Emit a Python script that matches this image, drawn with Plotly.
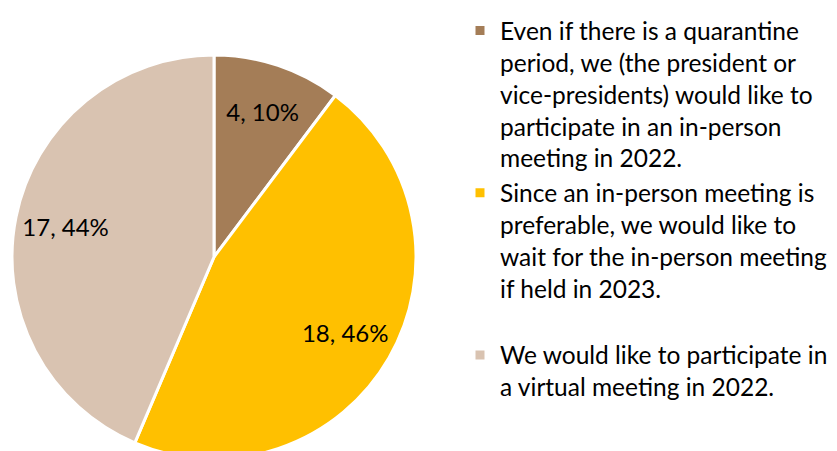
import plotly.graph_objects as go

labels = [
    "Even if there is a quarantine<br>period, we (the president or<br>vice-presidents) would like to<br>participate in an in-person<br>meeting in 2022.",
    "Since an in-person meeting is<br>preferable, we would like to<br>wait for the in-person meeting<br>if held in 2023.<br> ",
    "We would like to participate in<br>a virtual meeting in 2022.",
]
values = [4, 18, 17]
colors = ["#A47D57", "#FFC000", "#D9C3B1"]

W, H = 837, 451
dom = dict(x=[0, 412 / W], y=[0, 1])

fig = go.Figure()
# slices
fig.add_trace(go.Pie(
    labels=labels,
    values=values,
    sort=False,
    direction="clockwise",
    rotation=0,
    marker=dict(colors=colors, line=dict(color="white", width=3)),
    textinfo="none",
    hoverinfo="label+value+percent",
    domain=dom,
))
# data labels (placed in the outer ring, like the original)
fig.add_trace(go.Pie(
    labels=labels,
    values=values,
    sort=False,
    direction="clockwise",
    rotation=0,
    hole=0.5,
    marker=dict(colors=["rgba(0,0,0,0)"] * 3, line=dict(width=0)),
    texttemplate="%{value}, %{percent:.0%}",
    textposition="inside",
    insidetextorientation="horizontal",
    textfont=dict(family="Lato", size=24, color="black"),
    hoverinfo="skip",
    showlegend=False,
    domain=dom,
))

fig.update_layout(
    width=W, height=H,
    margin=dict(l=0, r=0, t=47, b=0, autoexpand=False),
    paper_bgcolor="white",
    plot_bgcolor="white",
    font=dict(family="Lato", size=24.5, color="black"),
    showlegend=True,
    legend=dict(
        xref="container", yref="container",
        x=452 / W, y=1 + 10 / H, xanchor="left", yanchor="top",
        valign="top",
        maxheight=1,
        font=dict(family="Lato", size=24.5, color="black"),
        bgcolor="rgba(0,0,0,0)",
        itemclick=False,
    ),
)

fig.write_html("out.html")
